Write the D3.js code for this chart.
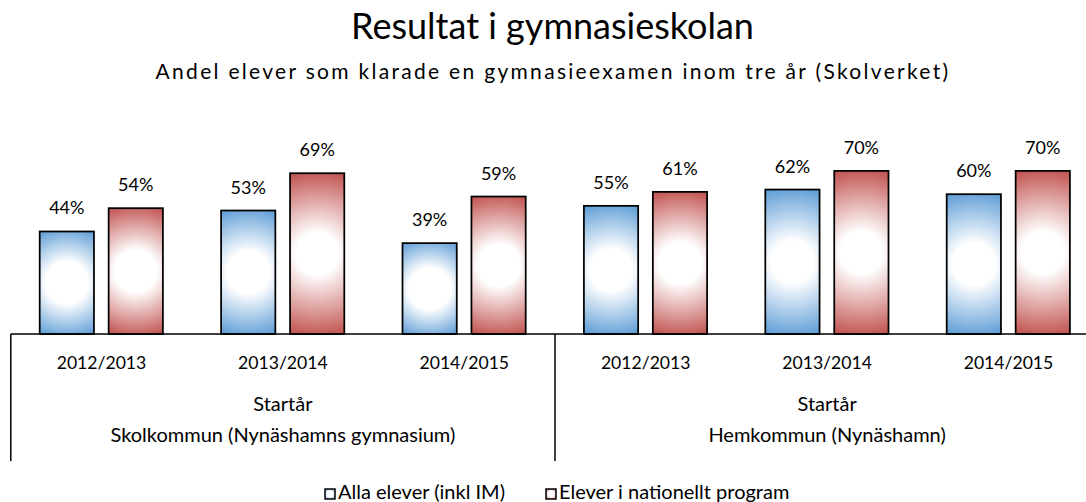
<!DOCTYPE html>
<html>
<head>
<meta charset="utf-8">
<title>Resultat i gymnasieskolan</title>
<script src="https://cdn.jsdelivr.net/npm/d3@7"></script>
<style>
  body { margin: 0; background: #fff; }
  text { font-family: Lato, "Noto Sans", sans-serif; fill: #000; }
</style>
</head>
<body>
<script>
// data
var years = ["2012/2013", "2013/2014", "2014/2015"];
var groups = ["Skolkommun (Nynäshamns gymnasium)", "Hemkommun (Nynäshamn)"];
var seriesNames = ["Alla elever (inkl IM)", "Elever i nationellt program"];
var allaElever = [[0.44, 0.53, 0.39], [0.55, 0.62, 0.60]];
var nationellt = [[0.54, 0.69, 0.59], [0.61, 0.70, 0.70]];
var seriesColors = ["#5b9bd5", "#c0504d"];

var w = 1086, h = 502;
var base = 334;

var svg = d3.select("body").append("svg")
    .attr("width", w)
    .attr("height", h);

// one row per (group, year)
var rows = [];
groups.forEach(function(g, gi) {
  years.forEach(function(y, yi) {
    rows.push({ key: gi + "|" + y, group: g, gi: gi, year: y,
                vals: [allaElever[gi][yi], nationellt[gi][yi]] });
  });
});

var x0 = d3.scaleBand()
    .domain(rows.map(function(d) { return d.key; }))
    .range([10.8, 1099.2])
    .padding(0);

var x1 = d3.scaleBand()
    .domain([0, 1])
    .range([28.9, 152.1])
    .paddingInner(0.213);

var y = d3.scaleLinear()
    .domain([0, 0.8])
    .range([base, base - 186.4]);

var defs = svg.append("defs");

// white centre fading out to the series colour, like the Excel path fill
function gradient(id, cx, cy, r, white, color) {
  var g = defs.append("radialGradient")
      .attr("id", id)
      .attr("gradientUnits", "userSpaceOnUse")
      .attr("cx", cx).attr("cy", cy).attr("r", r);
  g.append("stop").attr("offset", 0).attr("stop-color", "#fff");
  g.append("stop").attr("offset", white).attr("stop-color", "#fff");
  g.append("stop").attr("offset", 1).attr("stop-color", color);
}

// title
svg.append("text")
    .attr("x", 552.5).attr("y", 39)
    .attr("text-anchor", "middle")
    .style("font-size", "36px")
    .text("Resultat i gymnasieskolan");

svg.append("text")
    .attr("x", 553).attr("y", 79)
    .attr("text-anchor", "middle")
    .style("font-size", "21px")
    .style("letter-spacing", "2.3px")
    .text("Andel elever som klarade en gymnasieexamen inom tre år (Skolverket)");

// bars
var cat = svg.selectAll("g.cat")
    .data(rows)
    .enter().append("g")
    .attr("class", "cat")
    .attr("transform", function(d) { return "translate(" + x0(d.key) + ",0)"; });

cat.each(function(d, i) {
  var g = d3.select(this);
  d.vals.forEach(function(v, s) {
    var bw = x1.bandwidth();
    var top = y(v);
    var id = "gr" + i + "_" + s;
    var half = Math.sqrt(Math.pow(bw / 2, 2) + Math.pow((base - top) / 2, 2));
    gradient(id, x1(s) + bw / 2, (top + base) / 2, half, Math.min(0.9, 21 / half), seriesColors[s]);
    g.append("rect")
        .attr("x", x1(s))
        .attr("y", top)
        .attr("width", bw)
        .attr("height", base - top)
        .attr("fill", "url(#" + id + ")")
        .attr("stroke", "#000")
        .attr("stroke-width", 1.75);
    g.append("text")
        .attr("x", x1(s) + bw / 2)
        .attr("y", top - 17)
        .attr("text-anchor", "middle")
        .style("font-size", "18px")
        .text(Math.round(v * 100) + "%");
  });
  g.append("text")
      .attr("x", x0.bandwidth() / 2)
      .attr("y", 369)
      .attr("text-anchor", "middle")
      .style("font-size", "17.6px")
      .text(d.year);
});

// axis line and group dividers
svg.append("line")
    .attr("x1", x0.range()[0]).attr("x2", x0.range()[1])
    .attr("y1", base).attr("y2", base)
    .attr("stroke", "#000").attr("stroke-width", 1.5);

groups.forEach(function(g, gi) {
  var first = x0(gi + "|" + years[0]);
  var last = x0(gi + "|" + years[years.length - 1]) + x0.bandwidth();
  var mid = (first + last) / 2;
  svg.append("line")
      .attr("x1", first).attr("x2", first)
      .attr("y1", base).attr("y2", 461)
      .attr("stroke", "#000").attr("stroke-width", 1.5);
  svg.append("text")
      .attr("x", mid).attr("y", 411)
      .attr("text-anchor", "middle")
      .style("font-size", "20px")
      .text("Startår");
  svg.append("text")
      .attr("x", mid).attr("y", 442)
      .attr("text-anchor", "middle")
      .style("font-size", "20px")
      .text(g);
});

// legend
var legendX = [325, 546];
seriesNames.forEach(function(name, s) {
  gradient("lg" + s, legendX[s] + 5, 494, 8, 0.35, seriesColors[s]);
  svg.append("rect")
      .attr("x", legendX[s]).attr("y", 489)
      .attr("width", 10).attr("height", 10)
      .attr("fill", "url(#lg" + s + ")")
      .attr("stroke", "#000").attr("stroke-width", 1.5);
  svg.append("text")
      .attr("x", legendX[s] + 13).attr("y", 499)
      .style("font-size", "20px")
      .text(name);
});
</script>
</body>
</html>
